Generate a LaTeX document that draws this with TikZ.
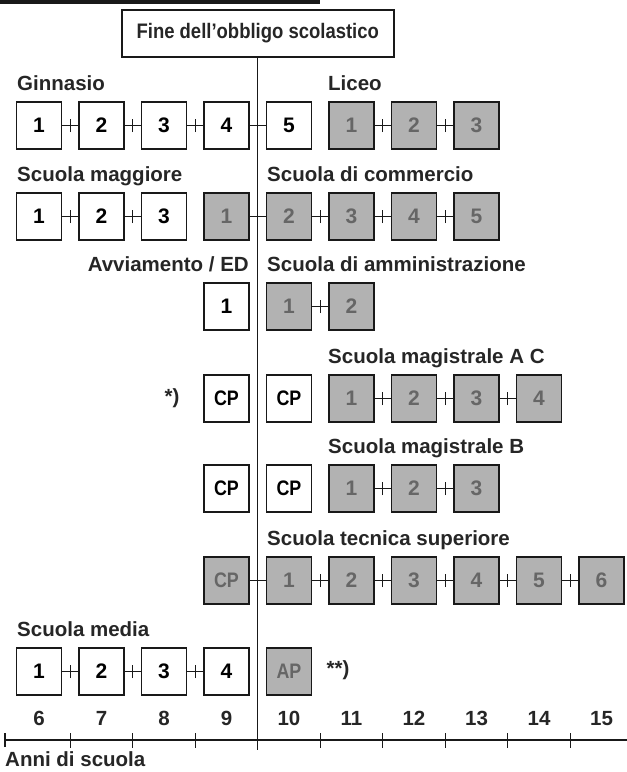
\documentclass[tikz,border=0pt]{standalone}
\usepackage{fontspec}
\setmainfont{Liberation Sans}
\usetikzlibrary{calc}
\newcommand\lnk[2]{\draw[conn] (#1.east) -- (#2.west) coordinate[midway] (mid);
  \draw[conn] ([yshift=-6.5pt]mid) -- ([yshift=6.5pt]mid);}
\begin{document}
\begin{tikzpicture}[x=1pt,y=-1pt,
  declare function={cx(\k)=39+62.5*(\k-6); bx(\k)=7.75+62.5*(\k-6);},
  box/.style={draw=black!90, line width=1.7pt, minimum width=45pt, minimum height=47pt, inner sep=0pt, font=\fontsize{21}{21}\selectfont\bfseries},
  wbox/.style={box, fill=white},
  gbox/.style={box, fill=black!30, text=black!60},
  lab/.style={inner sep=0pt, font=\fontsize{20.5}{22}\selectfont\bfseries, text=black!85},
  labw/.style={lab, anchor=base west},
  labe/.style={lab, anchor=base east},
  num/.style={lab, anchor=base},
  conn/.style={line width=1.3pt, draw=black!90},
  ]
\useasboundingbox (0,0) rectangle (627,772);
\fill[black!90] (0,0) rectangle (320,3.5);
\node[draw=black!90, line width=1.7pt, minimum width=272pt, minimum height=47pt, inner sep=0pt,
  font=\fontsize{21}{22}\selectfont\bfseries, text=black!85] (title) at (257.75,33.5)
  {\scalebox{0.88}[1]{Fine dell'obbligo scolastico}};
\coordinate (vend) at (257.75,750);
\draw[line width=1.3pt, black!90] (title.south) -- (title.south |- vend);

% Row 1
\node[labw] (tg) at (17,90) {Ginnasio};
\node[labw] (tl) at (328,90) {Liceo};
\foreach \i/\k in {1/6,2/7,3/8,4/9,5/10} \node[wbox] (g\i) at ({cx(\k)},125.5) {\i};
\foreach \i/\k in {1/11,2/12,3/13} \node[gbox] (l\i) at ({cx(\k)},125.5) {\i};
\lnk{g1}{g2}\lnk{g2}{g3}\lnk{g3}{g4}\lnk{g4}{g5}\lnk{l1}{l2}\lnk{l2}{l3}

% Row 2
\node[labw] (tm) at (17,181) {Scuola maggiore};
\node[labw] (tc) at (267,181) {Scuola di commercio};
\foreach \i/\k in {1/6,2/7,3/8} \node[wbox] (m\i) at ({cx(\k)},216.5) {\i};
\foreach \i/\k in {1/9,2/10,3/11,4/12,5/13} \node[gbox] (c\i) at ({cx(\k)},216.5) {\i};
\lnk{m1}{m2}\lnk{m2}{m3}\lnk{c1}{c2}\lnk{c2}{c3}\lnk{c3}{c4}\lnk{c4}{c5}

% Row 3
\node[labe] (ta) at (249,271) {Avviamento / ED};
\node[labw] (ts) at (267,271) {Scuola di amministrazione};
\node[wbox] (a1) at ({cx(9)},306.5) {1};
\node[gbox] (s1) at ({cx(10)},306.5) {1};
\node[gbox] (s2) at ({cx(11)},306.5) {2};
\lnk{s1}{s2}

% Row 4
\node[labw] (tac) at (328,363) {Scuola magistrale A C};
\node[lab] (star) at (172,398.5) {*)};
\node[wbox] (cpa) at ({cx(9)},398.5) {\scalebox{0.85}[1]{CP}};
\node[wbox] (cpb) at ({cx(10)},398.5) {\scalebox{0.85}[1]{CP}};
\foreach \i/\k in {1/11,2/12,3/13,4/14} \node[gbox] (ma\i) at ({cx(\k)},398.5) {\i};
\lnk{ma1}{ma2}\lnk{ma2}{ma3}\lnk{ma3}{ma4}

% Row 5
\node[labw] (tb) at (328,453) {Scuola magistrale B};
\node[wbox] (cpc) at ({cx(9)},488.5) {\scalebox{0.85}[1]{CP}};
\node[wbox] (cpd) at ({cx(10)},488.5) {\scalebox{0.85}[1]{CP}};
\foreach \i/\k in {1/11,2/12,3/13} \node[gbox] (mb\i) at ({cx(\k)},488.5) {\i};
\lnk{mb1}{mb2}\lnk{mb2}{mb3}

% Row 6
\node[labw] (tt) at (267,545) {Scuola tecnica superiore};
\node[gbox] (cpe) at ({cx(9)},580.5) {\scalebox{0.85}[1]{CP}};
\foreach \i/\k in {1/10,2/11,3/12,4/13,5/14,6/15} \node[gbox] (t\i) at ({cx(\k)},580.5) {\i};
\lnk{cpe}{t1}\lnk{t1}{t2}\lnk{t2}{t3}\lnk{t3}{t4}\lnk{t4}{t5}\lnk{t5}{t6}

% Row 7
\node[labw] (tsm) at (17,636) {Scuola media};
\foreach \i/\k in {1/6,2/7,3/8,4/9} \node[wbox] (sm\i) at ({cx(\k)},671.5) {\i};
\node[gbox] (ap) at ({cx(10)},671.5) {\scalebox{0.85}[1]{AP}};
\node[lab] (stars) at (338,670) {**)};
\lnk{sm1}{sm2}\lnk{sm2}{sm3}\lnk{sm3}{sm4}

% Axis
\foreach \k in {6,...,15} \node[num] (n\k) at ({cx(\k)},725) {\k};
\coordinate (axL) at (5,740);
\coordinate (axR) at (627,740);
\draw[line width=1.3pt, black!90] (axL) -- (axR);
\draw[line width=1.3pt, black!90] ([yshift=-7pt]axL) -- ([yshift=7pt]axL);
\foreach \k in {7,8,9,11,12,13,14,15}
  \draw[line width=1.3pt, black!90] ({bx(\k)},733) -- ({bx(\k)},748);
\node[labw] (anni) at (5,766) {Anni di scuola};
\end{tikzpicture}
\end{document}
